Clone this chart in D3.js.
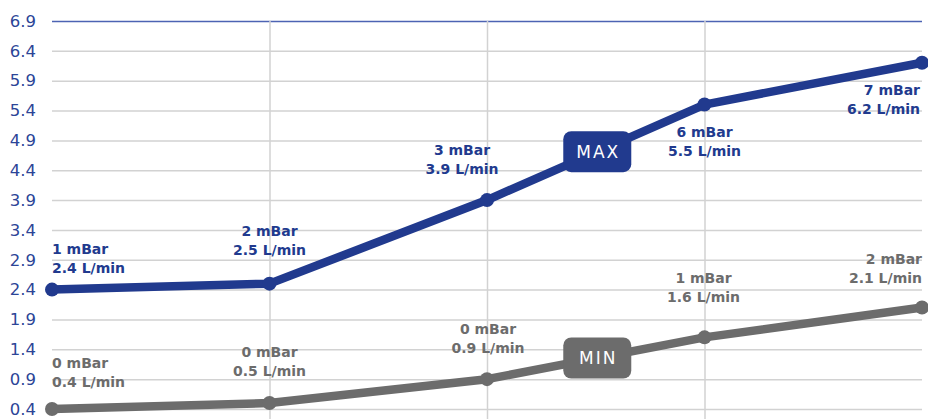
<!DOCTYPE html>
<html>
<head>
<meta charset="utf-8">
<script src="https://cdn.jsdelivr.net/npm/d3@7"></script>
<style>
  html, body { margin: 0; padding: 0; background: #fff; }
  svg { display: block; }
</style>
</head>
<body>
<svg id="chart" width="928" height="419"></svg>
<script>
// Flow rate (L/min) against pressure (mBar) at five settings
const steps = [0, 1, 2, 3, 4];
const maxFlow = [2.4, 2.5, 3.9, 5.5, 6.2];
const maxPressure = [1, 2, 3, 6, 7];
const minFlow = [0.4, 0.5, 0.9, 1.6, 2.1];
const minPressure = [0, 0, 0, 1, 2];
const yTicks = [0.4, 0.9, 1.4, 1.9, 2.4, 2.9, 3.4, 3.9, 4.4, 4.9, 5.4, 5.9, 6.4, 6.9];
const seriesNames = ["MAX", "MIN"];

// Placement of each two-line point label relative to its point
const maxLabelPlace = [
  { anchor: "start",  dx: 0,   dy: -36 },
  { anchor: "middle", dx: 0,   dy: -48 },
  { anchor: "middle", dx: -25, dy: -45 },
  { anchor: "middle", dx: 0,   dy: 32 },
  { anchor: "end",    dx: -2,  dy: 32 }
];
const minLabelPlace = [
  { anchor: "start",  dx: 0,   dy: -41 },
  { anchor: "middle", dx: 0,   dy: -46 },
  { anchor: "middle", dx: 1,   dy: -45 },
  { anchor: "middle", dx: -1,  dy: -54 },
  { anchor: "end",    dx: 0,   dy: -44 }
];

const W = 928, H = 419;
const plotLeft = 52, plotRight = 922, plotTop = 21, plotBottom = 409;

const svg = d3.select("#chart");
const x = d3.scalePoint().domain(steps).range([plotLeft, plotRight]);
const y = d3.scaleLinear().domain([0.4, 6.9]).range([plotBottom, plotTop]);

const FONT = "'DejaVu Sans', Verdana, sans-serif";
const BLUE = "#213a8e";
const GREY = "#6c6c6c";

// Horizontal grid + tick labels
const yAxis = d3.axisLeft(y).tickValues(yTicks).tickFormat(d3.format(".1f"))
  .tickSize(-(plotRight - plotLeft)).tickPadding(16);
const gy = svg.append("g").attr("transform", `translate(${plotLeft},0)`).call(yAxis);
gy.select(".domain").remove();
gy.selectAll(".tick line")
  .attr("stroke", d => d === 6.9 ? "#4d63b3" : "#d2d2d2")
  .attr("stroke-width", 1.5);
gy.selectAll(".tick text")
  .attr("fill", "#2c4597")
  .style("font-family", FONT)
  .style("font-size", "16.5px")
  .attr("x", -16);

// Vertical grid at inner steps
const xAxis = d3.axisBottom(x).tickValues(steps.slice(1, -1)).tickSize(-(H - plotTop)).tickFormat("");
const gx = svg.append("g").attr("transform", `translate(0,${H})`).call(xAxis);
gx.select(".domain").remove();
gx.selectAll(".tick line").attr("stroke", "#d2d2d2").attr("stroke-width", 1.5);

const line = d3.line().x((d, i) => x(steps[i])).y(d => y(d));

function drawSeries(values, pressures, color, place, name) {
  const g = svg.append("g");
  g.append("path").datum(values)
    .attr("d", line)
    .attr("fill", "none")
    .attr("stroke", color)
    .attr("stroke-width", 8.5)
    .attr("stroke-linejoin", "round");
  g.selectAll("circle").data(values).join("circle")
    .attr("cx", (d, i) => x(steps[i]))
    .attr("cy", d => y(d))
    .attr("r", 7)
    .attr("fill", color);

  const labels = g.selectAll("text.pt").data(values).join("text")
    .attr("class", "pt")
    .attr("x", (d, i) => x(steps[i]) + place[i].dx)
    .attr("y", (d, i) => y(d) + place[i].dy)
    .attr("text-anchor", (d, i) => place[i].anchor)
    .attr("fill", color)
    .style("font-family", FONT)
    .style("font-size", "14px")
    .style("font-weight", "bold");
  labels.append("tspan").text((d, i) => `${pressures[i]} mBar`);
  labels.append("tspan")
    .attr("x", (d, i) => x(steps[i]) + place[i].dx)
    .attr("dy", 19)
    .text(d => `${d3.format(".1f")(d)} L/min`);

  // Series badge on the segment between the third and fourth points
  const t = 0.507;
  const bx = x(steps[2]) + t * (x(steps[3]) - x(steps[2]));
  const by = y(values[2]) + t * (y(values[3]) - y(values[2]));
  const bw = 68, bh = 41;
  const badge = g.append("g").attr("transform", `translate(${bx},${by})`);
  badge.append("rect")
    .attr("x", -bw / 2).attr("y", -bh / 2)
    .attr("width", bw).attr("height", bh)
    .attr("rx", 8).attr("ry", 8)
    .attr("fill", color);
  badge.append("text")
    .attr("x", 1).attr("y", 6.5)
    .attr("text-anchor", "middle")
    .attr("fill", "#fff")
    .style("font-family", FONT)
    .style("font-size", "17px")
    .style("letter-spacing", "2px")
    .text(name);
}

drawSeries(maxFlow, maxPressure, BLUE, maxLabelPlace, seriesNames[0]);
drawSeries(minFlow, minPressure, GREY, minLabelPlace, seriesNames[1]);
</script>
</body>
</html>
